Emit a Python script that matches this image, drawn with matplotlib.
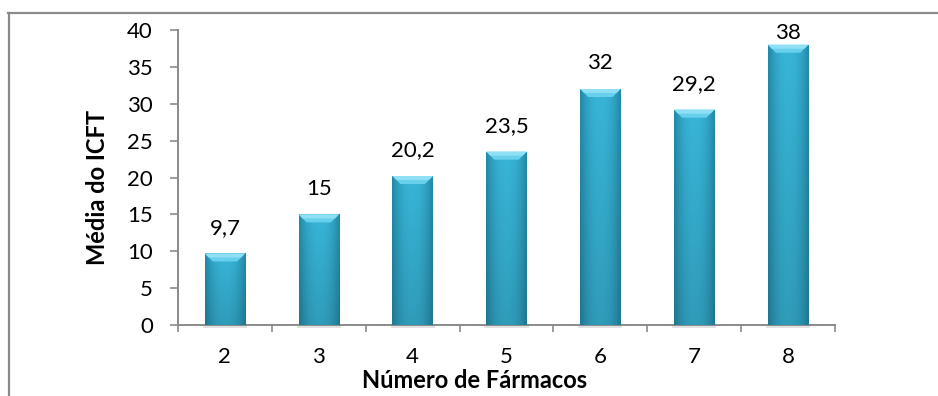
import numpy as np
import matplotlib.pyplot as plt
from matplotlib.patches import Polygon
from matplotlib.colors import to_rgb

farmacos = ['2', '3', '4', '5', '6', '7', '8']
media_icft = [9.7, 15, 20.2, 23.5, 32, 29.2, 38]
rotulos = ['9,7', '15', '20,2', '23,5', '32', '29,2', '38']

plt.rcParams['font.family'] = ['Lato', 'DejaVu Sans']

fig = plt.figure(figsize=(9.38, 3.96), dpi=100)
ax = fig.add_axes([178 / 938, 1 - 325 / 396, (835 - 178) / 938, (325 - 30) / 396])

# gray frame of the chart area (top and left)
fig.add_artist(plt.Line2D([8 / 938, 1], [1 - 13 / 396] * 2, color='#8a8a8a', lw=1.6))
fig.add_artist(plt.Line2D([8.5 / 938] * 2, [0, 1 - 13 / 396], color='#8a8a8a', lw=1.6))

x = np.arange(len(farmacos))
largura = 0.43
barras = ax.bar(x, media_icft, width=largura, color='#2fa8c8', zorder=2)
ax.set_xlim(-0.5, 6.5)
ax.set_ylim(0, 40)

# cylinder-like shading: lighter in the middle, darker at the edges and the base
u = np.linspace(-1, 1, 80)
borda = np.array(to_rgb('#2388a6'))
centro = np.array(to_rgb('#38b5d8'))
peso = (1 - np.abs(u) ** 2.2)[None, :, None]
linha = borda + (centro - borda) * peso
vert = np.linspace(1.0, 0.86, 60)[:, None, None]
textura = np.clip(linha * vert, 0, 1)

dx = 8 / 94
dy = 8 / 7.375
for b, v in zip(barras, media_icft):
    x0 = b.get_x()
    x1 = x0 + b.get_width()
    im = ax.imshow(textura, aspect='auto', extent=(x0, x1, 0, v),
                   zorder=3, interpolation='bilinear')
    im.set_clip_path(b)
    # lighter bevel at the top
    ax.add_patch(Polygon([(x0, v), (x1, v), (x1 - dx, v - dy), (x0 + dx, v - dy)],
                         closed=True, facecolor='#68d0ec', edgecolor='none', zorder=4))
    ax.add_patch(Polygon([(x0, v), (x1, v), (x1 - dx * 0.5, v - dy * 0.5), (x0 + dx * 0.5, v - dy * 0.5)],
                         closed=True, facecolor='#8fe0f4', edgecolor='none', zorder=4))
    # faint shadow under the base
    ax.add_patch(Polygon([(x0 - 0.02, 0), (x1 + 0.02, 0), (x1 + 0.02, -0.35), (x0 - 0.02, -0.35)],
                         closed=True, facecolor='#cfcfcf', edgecolor='none', zorder=1,
                         clip_on=False, alpha=0.6))

for xi, v, r in zip(x, media_icft, rotulos):
    ax.text(xi, min(v + 3.5, 39.6), r, ha='center', va='center', fontsize=16, zorder=5)

ax.set_xticks(np.arange(-0.5, 7, 1))
ax.set_xticklabels([])
ax.set_xticks(x, minor=True)
ax.set_xticklabels(farmacos, minor=True, fontsize=16)
ax.tick_params(axis='x', which='major', length=5, width=1.2, color='#8a8a8a', direction='out')
ax.tick_params(axis='x', which='minor', length=0, pad=16)
ax.set_yticks(range(0, 41, 5))
ax.tick_params(axis='y', labelsize=16, length=6, width=1.2, color='#8a8a8a', pad=12)

for s in ['top', 'right']:
    ax.spines[s].set_visible(False)
for s in ['left', 'bottom']:
    ax.spines[s].set_color('#8a8a8a')
    ax.spines[s].set_linewidth(1.4)

ax.set_ylabel('Média do ICFT', fontsize=17, fontweight='bold')
ax.yaxis.set_label_coords((97 - 178) / 657, (325 - 187) / 295)
ax.yaxis.label.set_va('center')
ax.set_xlabel('Número de Fármacos', fontsize=17, fontweight='bold')
ax.xaxis.set_label_coords((475 - 178) / 657, -(381 - 325) / 295)
ax.xaxis.label.set_va('center')

fig.savefig('out.png', dpi=100)
